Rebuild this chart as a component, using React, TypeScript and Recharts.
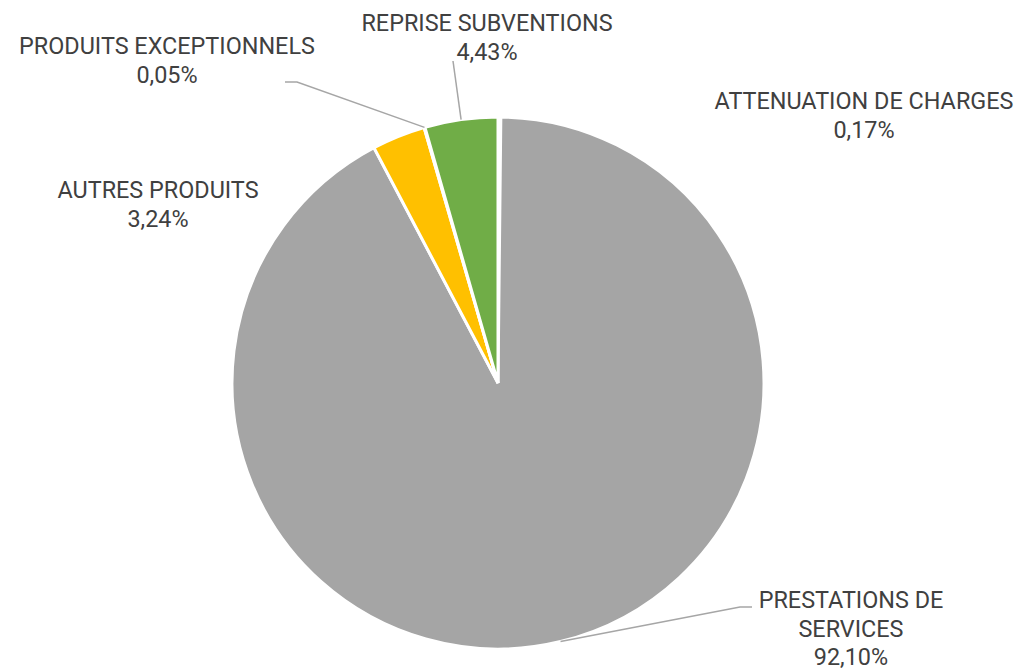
import { PieChart, Pie, Cell } from 'recharts'

const categories = [
  'ATTENUATION DE CHARGES',
  'PRESTATIONS DE SERVICES',
  'AUTRES PRODUITS',
  'PRODUITS EXCEPTIONNELS',
  'REPRISE SUBVENTIONS'
]
const shares = [0.17, 92.1, 3.24, 0.05, 4.43] // en %
const colors = ['#ED7D31', '#A5A5A5', '#FFC000', '#5B9BD5', '#70AD47']

const data = categories.map((name, i) => ({ name, value: shares[i] }))

// where each label sits (centre x, first baseline y), where the name wraps, leader line elbow
const labelLayout = [
  { x: 864, y: 109, breakAt: 0, elbow: null },
  { x: 851, y: 608, breakAt: 2, elbow: [[740, 607], [752, 607]] },
  { x: 158, y: 198, breakAt: 0, elbow: null },
  { x: 167, y: 54, breakAt: 0, elbow: [[297, 82], [285, 82]] },
  { x: 487, y: 31, breakAt: 0, elbow: [[453, 61]] }
]

const RAD = Math.PI / 180
const fmt = (v: number) => v.toFixed(2).replace('.', ',') + '%'

const renderLabel = (props: any) => {
  const { cx, cy, midAngle, outerRadius, index, value, name } = props
  const lay = labelLayout[index]
  const words = String(name).split(' ')
  const lines = lay.breakAt
    ? [words.slice(0, lay.breakAt).join(' '), words.slice(lay.breakAt).join(' ')]
    : [String(name)]
  lines.push(fmt(value))
  let path = null
  if (lay.elbow) {
    const sx = cx + outerRadius * Math.cos(-midAngle * RAD)
    const sy = cy + outerRadius * Math.sin(-midAngle * RAD)
    const d = `M${sx},${sy}` + lay.elbow.map(p => `L${p[0]},${p[1]}`).join('')
    path = <path d={d} stroke='#A6A6A6' strokeWidth={1.5} fill='none' />
  }
  return (
    <g key={'lbl' + index}>
      {path}
      <text
        x={lay.x}
        y={lay.y}
        textAnchor='middle'
        fontFamily='Roboto'
        fontSize={23.4}
        fill='#404040'
      >
        {lines.map((l, i) => (
          <tspan key={i} x={lay.x} dy={i === 0 ? 0 : 28.5}>{l}</tspan>
        ))}
      </text>
    </g>
  )
}

export default function App () {
  return (
    <div style={{ position: 'absolute', left: 0, top: 0, width: 1023, height: 670 }}>
      <PieChart width={1023} height={670} margin={{ top: 0, right: 0, bottom: 0, left: 0 }}>
        <Pie
          data={data}
          dataKey='value'
          nameKey='name'
          cx={498}
          cy={383}
          outerRadius={266}
          startAngle={90}
          endAngle={-270}
          stroke='#FFFFFF'
          strokeWidth={3}
          label={renderLabel}
          labelLine={false}
          isAnimationActive={false}
        >
          {data.map((d, i) => (
            <Cell key={d.name} fill={colors[i]} />
          ))}
        </Pie>
      </PieChart>
    </div>
  )
}
